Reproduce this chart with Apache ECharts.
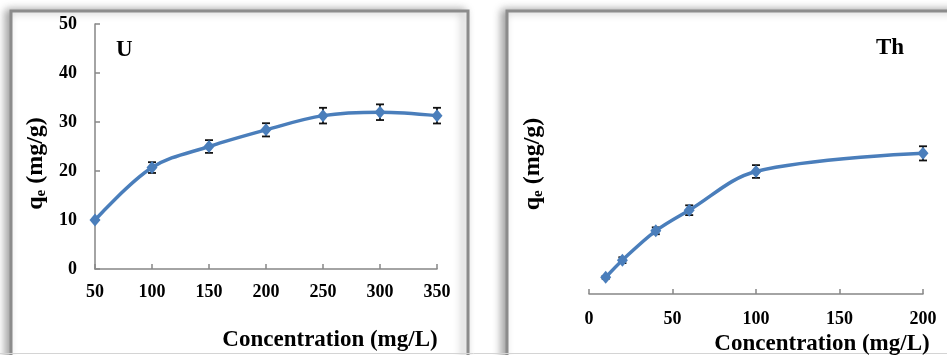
<!DOCTYPE html>
<html>
<head>
<meta charset="utf-8">
<script src="https://cdn.jsdelivr.net/npm/echarts@6/dist/echarts.min.js"></script>
<style>
html, body { margin: 0; padding: 0; background: #fff; }
#main { width: 947px; height: 355px; }
</style>
</head>
<body>
<div id="main"></div>
<script>
// U panel
var uConc = [50, 100, 150, 200, 250, 300, 350];
var uQe = [10.0, 20.7, 25.0, 28.4, 31.3, 32.0, 31.3];
var uErr = [0, 1.1, 1.3, 1.35, 1.6, 1.6, 1.6];

// Th panel
var thConc = [10, 20, 40, 60, 100, 200];
var thQe = [3.4, 6.9, 12.9, 17.1, 25.0, 28.7];
var thErr = [0.3, 0.6, 0.7, 1.0, 1.3, 1.45];

var serif = 'Liberation Serif';
var axisGray = '#868686';
var blue = '#4a7ebb';

function pairs(xs, ys) {
    var out = [];
    for (var i = 0; i < xs.length; i++) out.push([xs[i], ys[i]]);
    return out;
}

function errData(xs, ys, es) {
    var out = [];
    for (var i = 0; i < xs.length; i++) {
        if (es[i] > 0) out.push([xs[i], ys[i] - es[i], ys[i] + es[i]]);
    }
    return out;
}

function renderErr(params, api) {
    var top = api.coord([api.value(0), api.value(2)]);
    var bot = api.coord([api.value(0), api.value(1)]);
    var w = 4;
    var st = { stroke: '#111', lineWidth: 1.8 };
    return {
        type: 'group',
        children: [
            { type: 'line', shape: { x1: top[0], y1: top[1], x2: bot[0], y2: bot[1] }, style: st },
            { type: 'line', shape: { x1: top[0] - w, y1: top[1], x2: top[0] + w, y2: top[1] }, style: st },
            { type: 'line', shape: { x1: bot[0] - w, y1: bot[1], x2: bot[0] + w, y2: bot[1] }, style: st }
        ]
    };
}

var qeName = '{q|q}{e|e}{t| (mg/g)}';
var qeRich = {
    q: { fontFamily: serif, fontWeight: 'bold', fontSize: 24, color: '#000', lineHeight: 27 },
    e: { fontFamily: serif, fontWeight: 'bold', fontSize: 15, color: '#000', lineHeight: 15, verticalAlign: 'bottom' },
    t: { fontFamily: serif, fontWeight: 'bold', fontSize: 24, color: '#000', lineHeight: 27 }
};

var tickLabel = { fontFamily: serif, fontWeight: 'bold', fontSize: 18, color: '#000' };
var axisLine = { lineStyle: { color: axisGray, width: 1.5 } };
var axisTick = { inside: true, length: 5, lineStyle: { color: axisGray, width: 1.5 } };

var chart = echarts.init(document.getElementById('main'));

var option = {
    animation: false,
    backgroundColor: '#fff',
    graphic: [
        {
            type: 'rect', silent: true, z: -10,
            shape: { x: 11, y: 11, width: 457, height: 360 },
            style: { fill: '#fff', stroke: '#8c8c8c', lineWidth: 3, shadowBlur: 8, shadowOffsetX: -4, shadowColor: 'rgba(0,0,0,0.35)' }
        },
        {
            type: 'rect', silent: true, z: -10,
            shape: { x: 507, y: 11, width: 470, height: 360 },
            style: { fill: '#fff', stroke: '#8c8c8c', lineWidth: 3, shadowBlur: 8, shadowOffsetX: -4, shadowColor: 'rgba(0,0,0,0.35)' }
        },
        {
            type: 'line', silent: true, z: -5,
            shape: { x1: 0, y1: 353.5, x2: 947, y2: 353.5 },
            style: { stroke: '#d4d4d4', lineWidth: 1 }
        },
        {
            type: 'text', left: 116, top: 39,
            style: { text: 'U', fontFamily: serif, fontWeight: 'bold', fontSize: 23, fill: '#000' }
        },
        {
            type: 'text', left: 876, top: 37,
            style: { text: 'Th', fontFamily: serif, fontWeight: 'bold', fontSize: 23, fill: '#000' }
        }
    ],
    grid: [
        { left: 95, top: 24, width: 342, height: 245, outerBoundsMode: 'none' },
        { left: 589, top: 49, width: 334, height: 245, outerBoundsMode: 'none' }
    ],
    xAxis: [
        {
            gridIndex: 0, type: 'value', min: 50, max: 350, interval: 50,
            axisLine: axisLine, axisTick: axisTick, splitLine: { show: false },
            axisLabel: Object.assign({ margin: 14 }, tickLabel),
            name: 'Concentration (mg/L)', nameLocation: 'middle', nameGap: 60,
            nameTextStyle: { fontFamily: serif, fontWeight: 'bold', fontSize: 23, color: '#000', padding: [0, 0, 0, 128] }
        },
        {
            gridIndex: 1, type: 'value', min: 0, max: 200, interval: 50,
            axisLine: axisLine, axisTick: axisTick, splitLine: { show: false },
            axisLabel: Object.assign({ margin: 16 }, tickLabel),
            name: 'Concentration (mg/L)', nameLocation: 'middle', nameGap: 31,
            nameTextStyle: { fontFamily: serif, fontWeight: 'bold', fontSize: 23, color: '#000', padding: [0, 0, 0, 132] }
        }
    ],
    yAxis: [
        {
            gridIndex: 0, type: 'value', min: 0, max: 50, interval: 10,
            axisLine: { show: true, lineStyle: { color: axisGray, width: 1.5 } },
            axisTick: Object.assign({ show: true }, axisTick), splitLine: { show: false },
            axisLabel: Object.assign({ margin: 18 }, tickLabel),
            name: qeName, nameLocation: 'middle', nameRotate: 90, nameGap: 46,
            nameTextStyle: { rich: qeRich, padding: [0, 34, 0, 0] }
        },
        {
            gridIndex: 1, type: 'value', min: 0, max: 50, interval: 10,
            axisLine: { show: false }, axisTick: { show: false }, axisLabel: { show: false },
            splitLine: { show: false },
            name: qeName, nameLocation: 'middle', nameRotate: 90, nameGap: 43,
            nameTextStyle: { rich: qeRich, padding: [0, 0, 0, 15] }
        }
    ],
    series: [
        {
            type: 'custom', xAxisIndex: 0, yAxisIndex: 0, z: 1,
            renderItem: renderErr, data: errData(uConc, uQe, uErr),
            encode: { x: 0, y: [1, 2] }
        },
        {
            type: 'line', xAxisIndex: 0, yAxisIndex: 0, z: 3,
            data: pairs(uConc, uQe), smooth: 0.35, clip: false,
            symbol: 'diamond', symbolSize: [11, 13],
            lineStyle: { color: blue, width: 3.5 }, itemStyle: { color: blue }
        },
        {
            type: 'custom', xAxisIndex: 1, yAxisIndex: 1, z: 1,
            renderItem: renderErr, data: errData(thConc, thQe, thErr),
            encode: { x: 0, y: [1, 2] }
        },
        {
            type: 'line', xAxisIndex: 1, yAxisIndex: 1, z: 3,
            data: pairs(thConc, thQe), smooth: 0.35, clip: false,
            symbol: 'diamond', symbolSize: [11, 13],
            lineStyle: { color: blue, width: 3.5 }, itemStyle: { color: blue }
        }
    ]
};

chart.setOption(option);
</script>
</body>
</html>
